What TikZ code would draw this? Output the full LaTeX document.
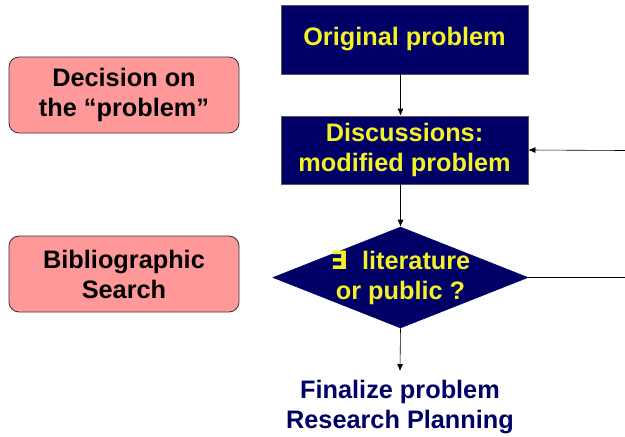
\documentclass[tikz,border=0pt]{standalone}
\usepackage{fontspec}
\setmainfont{Liberation Sans}
\newfontfamily\symfont{DejaVu Sans}
\usetikzlibrary{shapes.geometric,arrows.meta}
\definecolor{navy}{HTML}{000066}
\definecolor{gold}{HTML}{F2F226}
\definecolor{salmon}{HTML}{FF9999}
\tikzset{
  navybox/.style={draw=gray!70!black, line width=0.8pt, fill=navy, text=gold, minimum width=247pt, inner sep=0pt, align=center},
  pinkbox/.style={draw=black!80, line width=0.8pt, fill=salmon, rounded corners=10pt, minimum width=230pt, minimum height=76pt, inner sep=0pt, align=center},
  decision/.style={diamond, draw=navy, fill=navy, text=gold, aspect=2.52, inner sep=-8pt, align=center},
  arr/.style={-{Latex[length=7pt,width=6pt]}, line width=0.6pt}
}
\begin{document}
\begin{tikzpicture}[x=1pt, y=-1pt, line width=0.6pt, font=\fontsize{25.3}{30}\selectfont\bfseries]
  \useasboundingbox (0,0) rectangle (625,437);
  \node[navybox, minimum height=69pt] (orig) at (404.5,39.5) {Original problem};
  \node[navybox, minimum height=68pt] (disc) at (404.5,150) {Discussions:\\modified problem};
  \node[decision, minimum width=255pt, minimum height=101pt] (exists) at (400.5,277.5) {{\symfont\char"2203}\ \ literature\\or public ?};
  \node[text=navy, align=center, inner sep=0pt, anchor=north] (final) at (400,380) {Finalize problem\\Research Planning};
  \node[pinkbox] (decide) at (124,95) {Decision on\\the \char"201Cproblem\char"201D};
  \node[pinkbox] (biblio) at (124,274) {Bibliographic\\Search};
  \coordinate (loopin) at (625,150.5);
  \coordinate (loopout) at (625,277.5);
  \draw[arr] (orig.south -| exists) -- (disc.north -| exists);
  \draw[arr] (disc.south -| exists) -- (exists.north);
  \draw[arr] (exists.south) -- ([yshift=9pt]final.north);
  \draw (exists.east) -- (loopout);
  \draw[arr] (loopin) -- (disc.east);
\end{tikzpicture}
\end{document}
